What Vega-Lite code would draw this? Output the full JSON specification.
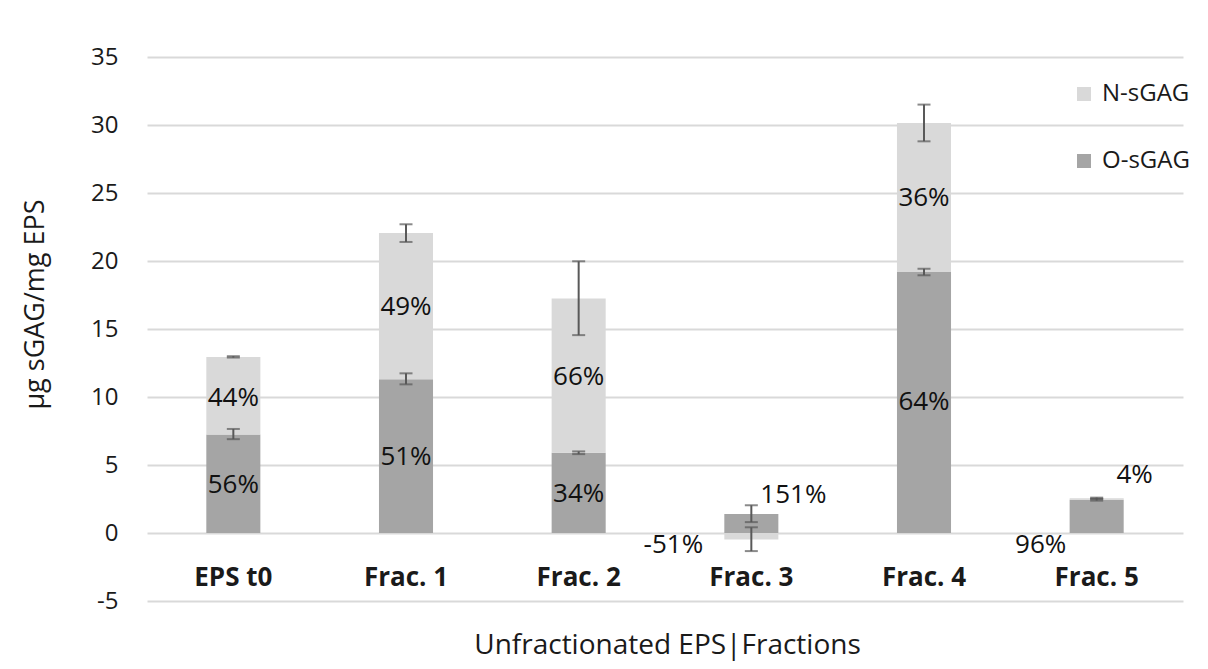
{
  "$schema": "https://vega.github.io/schema/vega-lite/v6.json",
  "width": 1036,
  "height": 544,
  "autosize": {"type": "none"},
  "padding": {"left": 147, "top": 57, "right": 25, "bottom": 68},
  "background": "white",
  "config": {"font": "Open Sans", "view": {"stroke": null}},
  "datasets": {
    "bars": [
      {"cat": "EPS t0", "series": "O-sGAG", "value": 7.25},
      {"cat": "EPS t0", "series": "N-sGAG", "value": 5.7},
      {"cat": "Frac. 1", "series": "O-sGAG", "value": 11.3},
      {"cat": "Frac. 1", "series": "N-sGAG", "value": 10.75},
      {"cat": "Frac. 2", "series": "O-sGAG", "value": 5.9},
      {"cat": "Frac. 2", "series": "N-sGAG", "value": 11.35},
      {"cat": "Frac. 3", "series": "O-sGAG", "value": 1.4},
      {"cat": "Frac. 3", "series": "N-sGAG", "value": -0.47},
      {"cat": "Frac. 4", "series": "O-sGAG", "value": 19.2},
      {"cat": "Frac. 4", "series": "N-sGAG", "value": 10.95},
      {"cat": "Frac. 5", "series": "O-sGAG", "value": 2.45},
      {"cat": "Frac. 5", "series": "N-sGAG", "value": 0.1}
    ],
    "errs": [
      {"cat": "EPS t0", "series": "O-sGAG", "lo": 6.9, "hi": 7.65},
      {"cat": "EPS t0", "series": "N-sGAG", "lo": 12.9, "hi": 13.0},
      {"cat": "Frac. 1", "series": "O-sGAG", "lo": 10.93, "hi": 11.74},
      {"cat": "Frac. 1", "series": "N-sGAG", "lo": 21.4, "hi": 22.7},
      {"cat": "Frac. 2", "series": "O-sGAG", "lo": 5.8, "hi": 6.0},
      {"cat": "Frac. 2", "series": "N-sGAG", "lo": 14.55, "hi": 19.98},
      {"cat": "Frac. 3", "series": "O-sGAG", "lo": 0.8, "hi": 2.04},
      {"cat": "Frac. 3", "series": "N-sGAG", "lo": -1.33, "hi": 0.42},
      {"cat": "Frac. 4", "series": "O-sGAG", "lo": 18.95, "hi": 19.43},
      {"cat": "Frac. 4", "series": "N-sGAG", "lo": 28.8, "hi": 31.5},
      {"cat": "Frac. 5", "series": "O-sGAG", "lo": 2.38, "hi": 2.52},
      {"cat": "Frac. 5", "series": "N-sGAG", "lo": 2.5, "hi": 2.6}
    ],
    "labels": [
      {"cat": "EPS t0", "pct": "56%", "ly": 3.5},
      {"cat": "EPS t0", "pct": "44%", "ly": 9.9},
      {"cat": "Frac. 1", "pct": "51%", "ly": 5.6},
      {"cat": "Frac. 1", "pct": "49%", "ly": 16.6},
      {"cat": "Frac. 2", "pct": "34%", "ly": 2.9},
      {"cat": "Frac. 2", "pct": "66%", "ly": 11.5},
      {"cat": "Frac. 3", "pct": "151%", "ly": 2.8},
      {"cat": "Frac. 3", "pct": "-51%", "ly": -0.9},
      {"cat": "Frac. 4", "pct": "64%", "ly": 9.6},
      {"cat": "Frac. 4", "pct": "36%", "ly": 24.6},
      {"cat": "Frac. 5", "pct": "96%", "ly": -0.9},
      {"cat": "Frac. 5", "pct": "4%", "ly": 4.3}
    ]
  },
  "encoding": {
    "x": {
      "field": "cat",
      "type": "nominal",
      "sort": ["EPS t0", "Frac. 1", "Frac. 2", "Frac. 3", "Frac. 4", "Frac. 5"],
      "scale": {"paddingInner": 0.687, "paddingOuter": 0.3435},
      "axis": {
        "title": "Unfractionated EPS|Fractions",
        "titleFontSize": 28,
        "titleFontWeight": "normal",
        "titleColor": "#1a1a1a",
        "titleX": 520,
        "titleY": 44,
        "titleBaseline": "middle",
        "titleAlign": "center",
        "labelAngle": 0,
        "labelFontSize": 26,
        "labelFontWeight": "bold",
        "labelColor": "#1a1a1a",
        "labelBaseline": "middle",
        "labelPadding": -24,
        "domain": false,
        "ticks": false,
        "tickSize": 0,
        "grid": false
      }
    }
  },
  "layer": [
    {
      "data": {"name": "bars"},
      "mark": {"type": "bar"},
      "encoding": {
        "y": {
          "field": "value",
          "type": "quantitative",
          "stack": "zero",
          "scale": {"domain": [-5, 35], "nice": false, "zero": false},
          "axis": {
            "title": "µg sGAG/mg EPS",
            "titleFontSize": 27,
            "titleFontWeight": "normal",
            "titleColor": "#1a1a1a",
            "titleAngle": -90,
            "titleX": -112,
            "titleY": 247,
            "titleBaseline": "middle",
            "titleAlign": "center",
            "values": [-5, 0, 5, 10, 15, 20, 25, 30, 35],
            "labelExpr": "replace(datum.label, '−', '-')",
            "labelFontSize": 24,
            "labelColor": "#1a1a1a",
            "labelPadding": 29,
            "domain": false,
            "ticks": false,
            "grid": true,
            "gridColor": "#D9D9D9",
            "gridWidth": 2
          }
        },
        "color": {
          "field": "series",
          "type": "nominal",
          "scale": {"domain": ["N-sGAG", "O-sGAG"], "range": ["#D9D9D9", "#A5A5A5"]},
          "legend": {
            "title": null,
            "orient": "none",
            "legendX": 925,
            "legendY": 25,
            "symbolType": "square",
            "symbolSize": 196,
            "symbolStrokeWidth": 0,
            "labelFontSize": 24,
            "labelColor": "#1a1a1a",
            "labelOffset": 6,
            "rowPadding": 43
          }
        },
        "order": {"field": "series", "sort": "descending"}
      }
    },
    {
      "data": {"name": "errs"},
      "mark": {"type": "rule", "color": "#595959", "strokeWidth": 2},
      "encoding": {
        "y": {"field": "lo", "type": "quantitative", "title": "µg sGAG/mg EPS"},
        "y2": {"field": "hi"}
      }
    },
    {
      "data": {"name": "errs"},
      "mark": {"type": "tick", "color": "#595959", "size": 13, "thickness": 2, "orient": "horizontal"},
      "encoding": {
        "y": {"field": "lo", "type": "quantitative", "title": "µg sGAG/mg EPS"}
      }
    },
    {
      "data": {"name": "errs"},
      "mark": {"type": "tick", "color": "#595959", "size": 13, "thickness": 2, "orient": "horizontal"},
      "encoding": {
        "y": {"field": "hi", "type": "quantitative", "title": "µg sGAG/mg EPS"}
      }
    },
    {
      "data": {"name": "labels"},
      "transform": [{"filter": "indexof(['151%','-51%','96%','4%'], datum.pct) < 0"}],
      "mark": {"type": "text", "fontSize": 26, "color": "#111111", "baseline": "middle", "align": "center"},
      "encoding": {
        "y": {"field": "ly", "type": "quantitative", "title": "µg sGAG/mg EPS"},
        "text": {"field": "pct"}
      }
    },
    {
      "data": {"name": "labels"},
      "transform": [{"filter": "datum.pct == '-51%'"}],
      "mark": {"type": "text", "fontSize": 26, "color": "#111111", "baseline": "middle", "align": "center", "dx": -78},
      "encoding": {
        "y": {"field": "ly", "type": "quantitative", "title": "µg sGAG/mg EPS"},
        "text": {"field": "pct"}
      }
    },
    {
      "data": {"name": "labels"},
      "transform": [{"filter": "datum.pct == '96%'"}],
      "mark": {"type": "text", "fontSize": 26, "color": "#111111", "baseline": "middle", "align": "center", "dx": -56},
      "encoding": {
        "y": {"field": "ly", "type": "quantitative", "title": "µg sGAG/mg EPS"},
        "text": {"field": "pct"}
      }
    },
    {
      "data": {"name": "labels"},
      "transform": [{"filter": "datum.pct == '151%'"}],
      "mark": {"type": "text", "fontSize": 26, "color": "#111111", "baseline": "middle", "align": "center", "dx": 42},
      "encoding": {
        "y": {"field": "ly", "type": "quantitative", "title": "µg sGAG/mg EPS"},
        "text": {"field": "pct"}
      }
    },
    {
      "data": {"name": "labels"},
      "transform": [{"filter": "datum.pct == '4%'"}],
      "mark": {"type": "text", "fontSize": 26, "color": "#111111", "baseline": "middle", "align": "center", "dx": 38},
      "encoding": {
        "y": {"field": "ly", "type": "quantitative", "title": "µg sGAG/mg EPS"},
        "text": {"field": "pct"}
      }
    }
  ]
}
